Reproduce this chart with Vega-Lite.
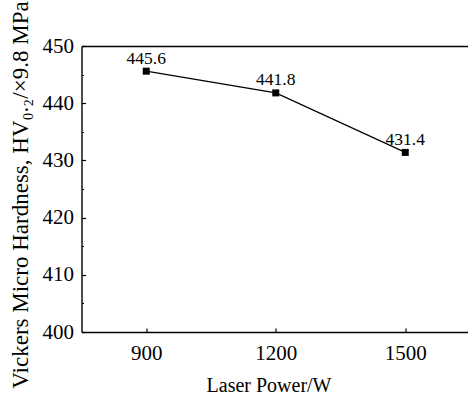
{
  "$schema": "https://vega.github.io/schema/vega-lite/v6.json",
  "autosize": {"type": "none"},
  "padding": {"left": 81.5, "top": 46, "right": 0, "bottom": 62},
  "width": 386.5,
  "height": 286,
  "background": "white",
  "config": {
    "font": "Liberation Serif",
    "view": {"stroke": null},
    "axis": {
      "domainColor": "black",
      "domainWidth": 1.4,
      "tickColor": "black",
      "tickWidth": 1.2,
      "labelColor": "black",
      "titleColor": "black",
      "labelFont": "Liberation Serif",
      "titleFont": "Liberation Serif",
      "labelFontSize": 21,
      "titleFontWeight": "normal",
      "grid": false
    }
  },
  "data": {
    "values": [
      {"power": 900, "hv": 445.6, "label": "445.6"},
      {"power": 1200, "hv": 441.8, "label": "441.8"},
      {"power": 1500, "hv": 431.4, "label": "431.4"}
    ]
  },
  "encoding": {
    "y": {
      "field": "hv",
      "type": "quantitative",
      "scale": {"domain": [400, 450], "nice": false, "zero": false},
      "axis": {
        "values": [400, 405, 410, 415, 420, 425, 430, 435, 440, 445, 450],
        "labelExpr": "datum.value % 10 === 0 ? datum.label : ''",
        "tickSize": {"condition": {"test": "datum.value % 10 === 0", "value": -4}, "value": -2},
        "labelPadding": 12,
        "labelFlush": false,
        "title": "Vickers Micro Hardness, HV₀.₂/×9.8 MPa",
        "titleFontSize": 23,
        "titleX": -54.5,
        "titleY": 148.5,
        "titleBaseline": "alphabetic",
        "titleAngle": -90,
        "titleAlign": "center"
      }
    }
  },
  "layer": [
    {
      "mark": {"type": "line", "color": "black", "strokeWidth": 1.2},
      "encoding": {
        "x": {
          "field": "power",
          "type": "quantitative",
          "scale": {"domain": [750, 1645.3], "nice": false, "zero": false},
          "axis": {
            "values": [900, 1200, 1500],
            "format": "d",
            "tickSize": -4,
            "labelPadding": 14,
            "labelFlush": false,
            "title": "Laser Power/W",
            "titleFontSize": 20,
            "titleX": 187,
            "titleY": 59,
            "titleBaseline": "alphabetic"
          }
        }
      }
    },
    {
      "mark": {"type": "square", "color": "black", "filled": true, "opacity": 1, "size": 49},
      "encoding": {
        "x": {
          "field": "power",
          "type": "quantitative",
          "axis": {"orient": "top", "labels": false, "ticks": false, "title": null, "domain": true}
        }
      }
    },
    {
      "mark": {"type": "text", "dy": -7.5, "baseline": "alphabetic", "fontSize": 17.5, "color": "black", "font": "Liberation Serif"},
      "encoding": {
        "x": {"field": "power", "type": "quantitative", "axis": null},
        "text": {"field": "label"}
      }
    }
  ],
  "resolve": {"axis": {"x": "independent"}}
}
